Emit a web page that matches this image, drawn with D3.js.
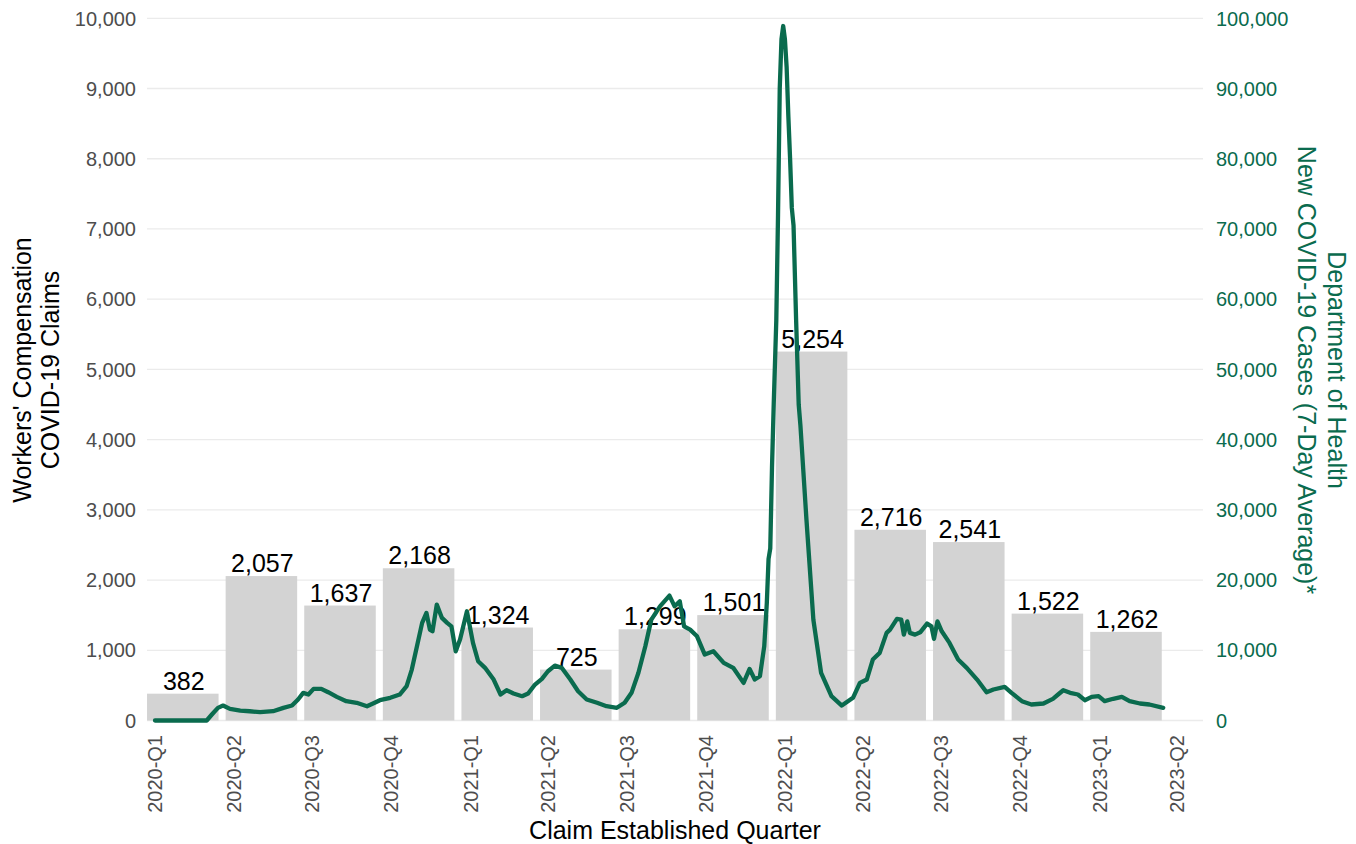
<!DOCTYPE html>
<html>
<head>
<meta charset="utf-8">
<script src="https://cdn.jsdelivr.net/npm/d3@7"></script>
<style>
  html, body { margin: 0; padding: 0; background: #fff; }
  svg { display: block; font-family: "Liberation Sans", Arial, Helvetica, sans-serif; }
</style>
</head>
<body>
<svg id="chart" width="1356" height="844"></svg>
<script>
// ---- Data ----
const quarters = ["2020-Q1","2020-Q2","2020-Q3","2020-Q4","2021-Q1","2021-Q2","2021-Q3","2021-Q4","2022-Q1","2022-Q2","2022-Q3","2022-Q4","2023-Q1"];
const claims = [382, 2057, 1637, 2168, 1324, 725, 1299, 1501, 5254, 2716, 2541, 1522, 1262];
const tickLabels = ["2020-Q1","2020-Q2","2020-Q3","2020-Q4","2021-Q1","2021-Q2","2021-Q3","2021-Q4","2022-Q1","2022-Q2","2022-Q3","2022-Q4","2023-Q1","2023-Q2"];
const tickDates = ["2020-01-01","2020-04-01","2020-07-01","2020-10-01","2021-01-01","2021-04-01","2021-07-01","2021-10-01","2022-01-01","2022-04-01","2022-07-01","2022-10-01","2023-01-01","2023-04-01"];
const leftTicks = [0,1000,2000,3000,4000,5000,6000,7000,8000,9000,10000];
const rightTicks = [0,10000,20000,30000,40000,50000,60000,70000,80000,90000,100000];

const lineDates = [
"2020-01-01","2020-03-01","2020-03-07","2020-03-14","2020-03-20","2020-03-28","2020-04-09","2020-04-20","2020-05-02","2020-05-17",
"2020-05-29","2020-06-08","2020-06-15","2020-06-21","2020-06-27","2020-07-03","2020-07-12","2020-07-20","2020-07-30","2020-08-10",
"2020-08-22","2020-09-03","2020-09-10","2020-09-18","2020-09-30","2020-10-11","2020-10-19","2020-10-25","2020-10-31","2020-11-06",
"2020-11-11","2020-11-15","2020-11-18","2020-11-23","2020-11-29","2020-12-05","2020-12-10","2020-12-15","2020-12-20","2020-12-28",
"2021-01-04","2021-01-10","2021-01-18","2021-01-28","2021-02-05","2021-02-12","2021-02-20","2021-03-02","2021-03-09","2021-03-17",
"2021-03-25","2021-04-01","2021-04-09","2021-04-17","2021-04-27","2021-05-06","2021-05-16","2021-05-28","2021-06-08","2021-06-20",
"2021-06-29","2021-07-07","2021-07-15","2021-07-23","2021-07-30","2021-08-09","2021-08-20","2021-08-26","2021-09-01","2021-09-06",
"2021-09-13","2021-09-21","2021-09-30","2021-10-10","2021-10-22","2021-11-02","2021-11-14","2021-11-21","2021-11-27","2021-12-03",
"2021-12-08","2021-12-11","2021-12-13","2021-12-15","2021-12-17","2021-12-19","2021-12-22","2021-12-24","2021-12-26","2021-12-28",
"2021-12-30","2022-01-01","2022-01-03","2022-01-05","2022-01-07","2022-01-09","2022-01-11","2022-01-12","2022-01-14","2022-01-17",
"2022-01-19","2022-01-26","2022-02-03","2022-02-12","2022-02-24","2022-03-08","2022-03-21","2022-03-29","2022-04-06","2022-04-13",
"2022-04-21","2022-04-29","2022-05-03","2022-05-11","2022-05-16","2022-05-19","2022-05-23","2022-05-26","2022-06-01","2022-06-07",
"2022-06-15","2022-06-20","2022-06-23","2022-06-27","2022-07-02","2022-07-11","2022-07-21","2022-07-31","2022-08-12","2022-08-23",
"2022-08-31","2022-09-13","2022-09-21","2022-10-03","2022-10-14","2022-10-28","2022-11-08","2022-11-14","2022-11-20","2022-11-28",
"2022-12-07","2022-12-15","2022-12-23","2022-12-31","2023-01-07","2023-01-17","2023-01-27","2023-02-05","2023-02-17","2023-02-28",
"2023-03-16"
];
const lineCases = [
0,0,850,1800,2130,1660,1420,1320,1180,1320,
1800,2130,2990,3940,3700,4510,4510,4030,3370,2750,
2520,2030,2420,2890,3230,3700,4880,7250,10570,13900,
15320,12940,12700,16500,14610,13900,13410,9860,11520,15550,
11050,8440,7500,5830,3700,4310,3840,3460,3840,5120,
5930,7010,7820,7500,5830,4170,2990,2520,2030,1810,
2520,3940,6790,10570,14370,16260,17780,16260,16970,13410,
12940,11990,9390,9860,8210,7500,5360,7350,5830,6300,
10570,16740,23000,24500,36000,45000,57000,72000,90000,97000,
98900,97000,93000,86000,80000,73000,70500,66000,57000,45000,
42000,28590,14370,6790,3460,2130,3230,5360,5830,8680,
9630,12480,12940,14470,14370,12230,14120,12480,12230,12560,
13800,13410,11620,14120,12700,11050,8680,7500,5830,4030,
4410,4790,3940,2750,2280,2420,3090,3700,4310,3940,
3700,2890,3370,3460,2750,3090,3370,2750,2420,2280,
1810
];

// ---- Layout ----
const svg = d3.select("#chart");
const plotLeft = 147, plotRight = 1203, plotTop = 18.3, plotBottom = 720.5;
const green = "#0a6b4e";
const parse = d3.utcParse("%Y-%m-%d");

const yLeft = d3.scaleLinear().domain([0, 10000]).range([plotBottom, plotTop]);
const yRight = d3.scaleLinear().domain([0, 100000]).range([plotBottom, plotTop]);
const xBand = d3.scaleBand().domain(quarters).range([143.5, 1165.3]).paddingInner(0.09).paddingOuter(0.045);
const xTime = d3.scaleUtc().domain([parse("2020-01-01"), parse("2023-04-01")]).range([155, 1177]);

// gridlines
svg.append("g").selectAll("line").data(leftTicks).join("line")
  .attr("x1", plotLeft).attr("x2", plotRight)
  .attr("y1", d => yLeft(d)).attr("y2", d => yLeft(d))
  .attr("stroke", "#ebebeb").attr("stroke-width", 1.3);

// bars
svg.append("g").selectAll("rect").data(quarters).join("rect")
  .attr("x", d => xBand(d)).attr("width", xBand.bandwidth())
  .attr("y", (d, i) => yLeft(claims[i]))
  .attr("height", (d, i) => yLeft(0) - yLeft(claims[i]))
  .attr("fill", "#d3d3d3");

// bar labels
svg.append("g").selectAll("text").data(quarters).join("text")
  .attr("x", d => xBand(d) + xBand.bandwidth() / 2 + 1)
  .attr("y", (d, i) => yLeft(claims[i]) - 4)
  .attr("text-anchor", "middle")
  .attr("font-size", 25).attr("fill", "#000")
  .text((d, i) => d3.format(",")(claims[i]));

// line
const lineData = lineDates.map((d, i) => ({ date: parse(d), value: lineCases[i] }));
svg.append("path").datum(lineData)
  .attr("fill", "none").attr("stroke", green).attr("stroke-width", 4.3)
  .attr("stroke-linejoin", "round").attr("stroke-linecap", "round")
  .attr("d", d3.line().x(d => xTime(d.date)).y(d => yRight(d.value)));

// left axis labels
svg.append("g").selectAll("text").data(leftTicks).join("text")
  .attr("x", 136).attr("y", d => yLeft(d)).attr("dy", "0.36em")
  .attr("text-anchor", "end").attr("font-size", 20).attr("fill", "#4d4d4d")
  .text(d => d3.format(",")(d));

// right axis labels
svg.append("g").selectAll("text").data(rightTicks).join("text")
  .attr("x", 1216).attr("y", d => yRight(d)).attr("dy", "0.36em")
  .attr("text-anchor", "start").attr("font-size", 20).attr("fill", green)
  .text(d => d3.format(",")(d));

// x tick labels
svg.append("g").selectAll("text").data(tickLabels).join("text")
  .attr("transform", (d, i) => `translate(${xTime(parse(tickDates[i]))},735) rotate(-90)`)
  .attr("dy", "0.36em").attr("text-anchor", "end")
  .attr("font-size", 20).attr("fill", "#4d4d4d")
  .text(d => d);

// x title
svg.append("text").attr("x", 675).attr("y", 839).attr("text-anchor", "middle")
  .attr("font-size", 25).attr("fill", "#000").text("Claim Established Quarter");

// left title
const lt = svg.append("text").attr("transform", "translate(22,370) rotate(-90)")
  .attr("text-anchor", "middle").attr("font-size", 25).attr("fill", "#000");
lt.append("tspan").attr("x", 0).attr("dy", "0.36em").text("Workers' Compensation");
lt.append("tspan").attr("x", 0).attr("dy", 28).text("COVID-19 Claims");

// right title
const rt = svg.append("text").attr("transform", "translate(1337,370) rotate(90)")
  .attr("text-anchor", "middle").attr("font-size", 25).attr("fill", green);
rt.append("tspan").attr("x", 0).attr("dy", "0.36em").text("Department of Health");
rt.append("tspan").attr("x", 0).attr("dy", 30).text("New COVID-19 Cases (7-Day Average)*");
</script>
</body>
</html>
